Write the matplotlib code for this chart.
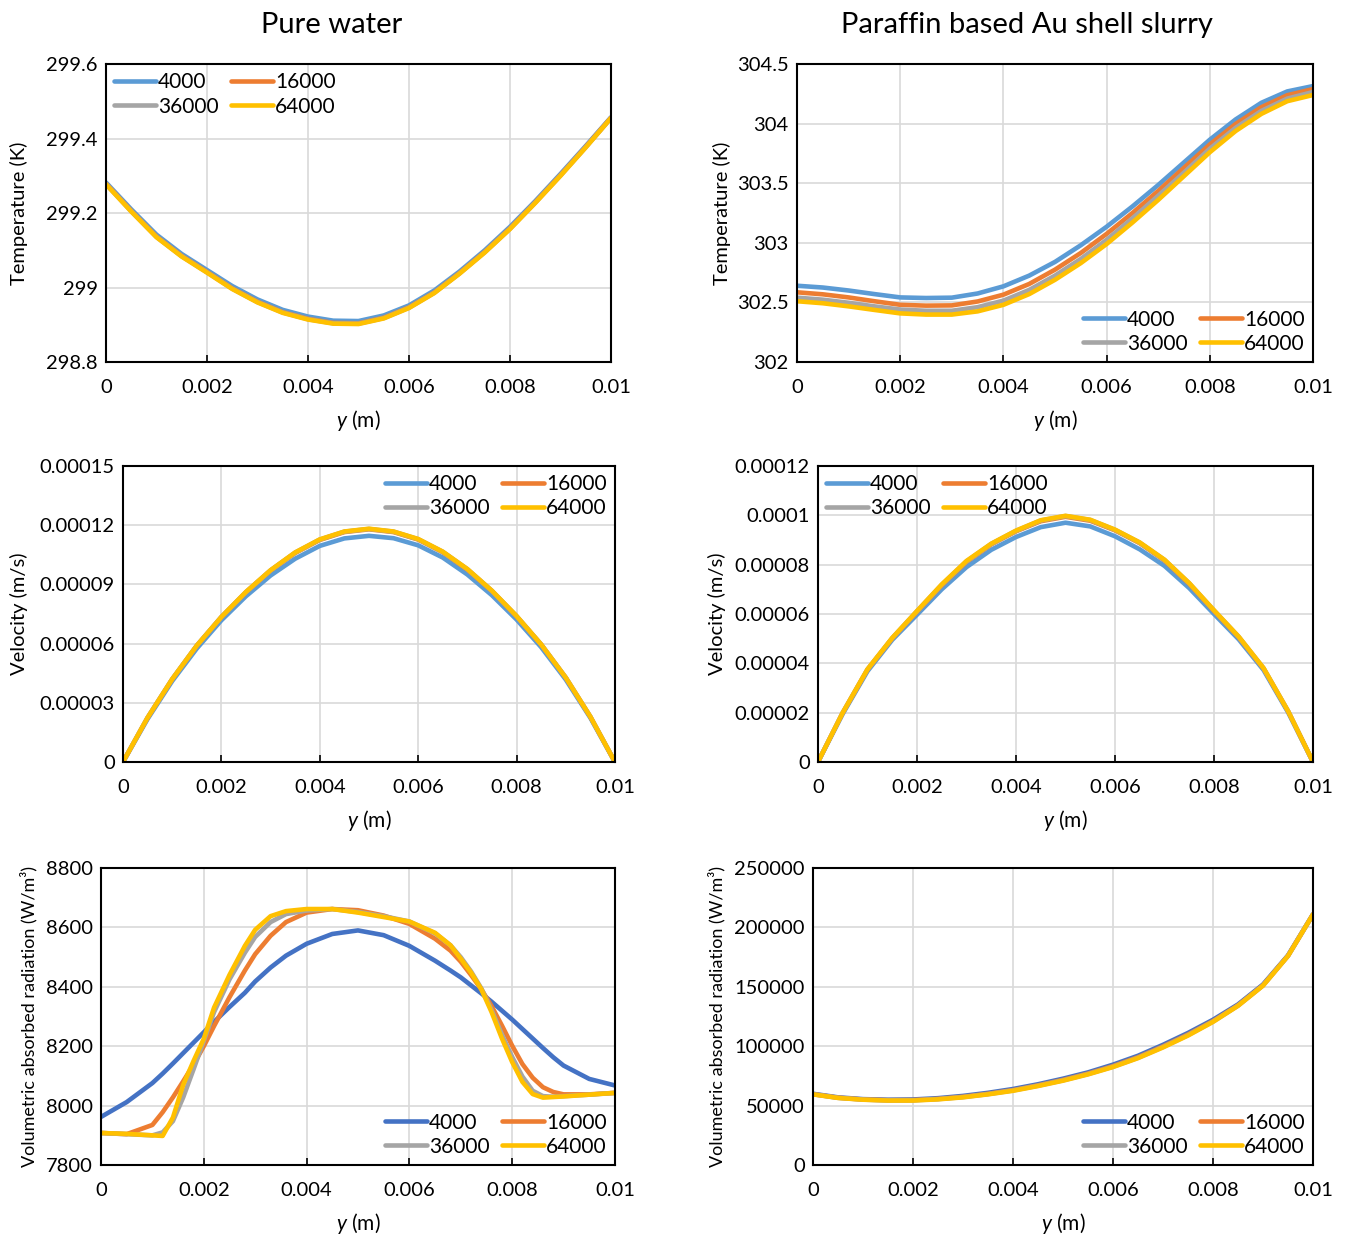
import numpy as np
import matplotlib
matplotlib.use('Agg')
import matplotlib.pyplot as plt
from matplotlib.ticker import FuncFormatter

plt.rcParams['font.family'] = ['Lato', 'DejaVu Sans']
plt.rcParams['mathtext.fontset'] = 'custom'
plt.rcParams['mathtext.it'] = 'Lato:italic'
plt.rcParams['mathtext.rm'] = 'Lato'

# 시리즈 이름
labels = ['4000', '16000', '36000', '64000']
colors_top = ['#5B9BD5', '#ED7D31', '#A5A5A5', '#FFC000']
colors_bot = ['#4472C4', '#ED7D31', '#A5A5A5', '#FFC000']

# 공통 y 좌표 (0.0005 m 간격)
y_std = [0, 0.0005, 0.001, 0.0015, 0.002, 0.0025, 0.003, 0.0035, 0.004, 0.0045, 0.005,
         0.0055, 0.006, 0.0065, 0.007, 0.0075, 0.008, 0.0085, 0.009, 0.0095, 0.01]

# ---- Pure water: temperature ----
pw_T_4000 = [299.282, 299.210, 299.142, 299.090, 299.047, 299.004, 298.968, 298.940, 298.922, 298.911, 298.910,
             298.925, 298.952, 298.992, 299.043, 299.100, 299.163, 299.232, 299.305, 299.380, 299.457]
pw_T_16000 = [299.279, 299.206, 299.137, 299.085, 299.042, 298.998, 298.962, 298.934, 298.916, 298.905, 298.904,
              298.919, 298.947, 298.987, 299.039, 299.096, 299.159, 299.229, 299.302, 299.378, 299.456]
pw_T_36000 = [299.278, 299.205, 299.136, 299.084, 299.041, 298.997, 298.961, 298.933, 298.915, 298.904, 298.903,
              298.918, 298.946, 298.986, 299.038, 299.095, 299.158, 299.228, 299.301, 299.377, 299.455]
pw_T_64000 = [299.277, 299.204, 299.135, 299.083, 299.040, 298.996, 298.960, 298.932, 298.914, 298.903, 298.902,
              298.917, 298.945, 298.985, 299.037, 299.094, 299.157, 299.227, 299.300, 299.376, 299.455]

# ---- Paraffin slurry: temperature ----
pf_T_4000 = [302.640, 302.625, 302.600, 302.570, 302.542, 302.537, 302.540, 302.575, 302.635, 302.725, 302.840,
             302.980, 303.135, 303.305, 303.485, 303.675, 303.865, 304.035, 304.175, 304.270, 304.315]
pf_T_16000 = [302.585, 302.568, 302.542, 302.510, 302.480, 302.473, 302.475, 302.508, 302.565, 302.655, 302.775,
              302.915, 303.075, 303.250, 303.435, 303.630, 303.825, 303.997, 304.138, 304.238, 304.290]
pf_T_36000 = [302.540, 302.523, 302.497, 302.467, 302.440, 302.430, 302.430, 302.460, 302.515, 302.605, 302.725,
              302.865, 303.025, 303.205, 303.395, 303.590, 303.790, 303.965, 304.107, 304.210, 304.265]
pf_T_64000 = [302.510, 302.493, 302.467, 302.437, 302.408, 302.398, 302.398, 302.425, 302.480, 302.570, 302.690,
              302.830, 302.990, 303.170, 303.360, 303.560, 303.760, 303.938, 304.082, 304.188, 304.240]

# ---- Pure water: velocity ----
pw_u_4000 = [0, 0.0000218, 0.0000410, 0.0000575, 0.0000718, 0.0000840, 0.0000945, 0.0001030, 0.0001095,
             0.0001133, 0.0001146, 0.0001134, 0.0001098, 0.0001036, 0.0000950, 0.0000845, 0.0000722,
             0.0000582, 0.0000418, 0.0000224, 0]
pw_u_16000 = [0, 0.0000224, 0.0000419, 0.0000589, 0.0000734, 0.0000860, 0.0000970, 0.0001059, 0.0001125,
              0.0001165, 0.0001179, 0.0001165, 0.0001127, 0.0001063, 0.0000975, 0.0000866, 0.0000738,
              0.0000595, 0.0000427, 0.0000229, 0]
pw_u_36000 = [0, 0.0000225, 0.0000420, 0.0000590, 0.0000735, 0.0000861, 0.0000971, 0.0001061, 0.0001127,
              0.0001167, 0.0001181, 0.0001167, 0.0001129, 0.0001065, 0.0000977, 0.0000867, 0.0000739,
              0.0000596, 0.0000428, 0.0000230, 0]
pw_u_64000 = [0, 0.0000225, 0.0000420, 0.0000590, 0.0000735, 0.0000862, 0.0000972, 0.0001062, 0.0001128,
              0.0001168, 0.0001182, 0.0001168, 0.0001130, 0.0001066, 0.0000978, 0.0000868, 0.0000740,
              0.0000596, 0.0000428, 0.0000230, 0]

# ---- Paraffin slurry: velocity ----
pf_u_4000 = [0, 0.0000195, 0.0000368, 0.0000495, 0.0000597, 0.0000700, 0.0000790, 0.0000860, 0.0000912,
             0.0000952, 0.0000970, 0.0000955, 0.0000915, 0.0000862, 0.0000795, 0.0000705, 0.0000600,
             0.0000497, 0.0000373, 0.0000200, 0]
pf_u_16000 = [0, 0.0000199, 0.0000374, 0.0000501, 0.0000609, 0.0000716, 0.0000811, 0.0000882, 0.0000935,
              0.0000976, 0.0000994, 0.0000978, 0.0000939, 0.0000887, 0.0000817, 0.0000722, 0.0000612,
              0.0000505, 0.0000379, 0.0000204, 0]
pf_u_36000 = [0, 0.0000200, 0.0000375, 0.0000502, 0.0000611, 0.0000718, 0.0000813, 0.0000884, 0.0000937,
              0.0000979, 0.0000997, 0.0000981, 0.0000941, 0.0000889, 0.0000819, 0.0000724, 0.0000614,
              0.0000507, 0.0000380, 0.0000205, 0]
pf_u_64000 = [0, 0.0000200, 0.0000376, 0.0000503, 0.0000612, 0.0000720, 0.0000815, 0.0000885, 0.0000938,
              0.0000980, 0.0000998, 0.0000982, 0.0000942, 0.0000890, 0.0000820, 0.0000725, 0.0000615,
              0.0000508, 0.0000381, 0.0000205, 0]

# ---- Pure water: absorbed radiation ----
y_rad = [0, 0.0005, 0.001, 0.0012, 0.0014, 0.0016, 0.0018, 0.002, 0.0022, 0.0025, 0.0028, 0.003,
         0.0033, 0.0036, 0.004, 0.0045, 0.005, 0.0055, 0.006, 0.0065, 0.0068, 0.007, 0.0072, 0.0074,
         0.0076, 0.0078, 0.008, 0.0082, 0.0084, 0.0086, 0.0088, 0.009, 0.0095, 0.01]
pw_q_4000 = [7962, 8012, 8076, 8108, 8142, 8177, 8212, 8247, 8282, 8332, 8380, 8418,
             8465, 8505, 8545, 8578, 8590, 8574, 8538, 8488, 8455, 8432, 8405, 8378,
             8350, 8320, 8290, 8258, 8226, 8194, 8163, 8135, 8090, 8068]
pw_q_16000 = [7908, 7904, 7935, 7978, 8028, 8082, 8138, 8200, 8268, 8365, 8455, 8510,
              8572, 8618, 8650, 8662, 8658, 8640, 8612, 8562, 8522, 8485, 8440, 8392,
              8335, 8270, 8202, 8140, 8094, 8062, 8046, 8038, 8038, 8043]
pw_q_36000 = [7908, 7904, 7900, 7910, 7948, 8028, 8122, 8218, 8315, 8425, 8515, 8568,
              8618, 8645, 8657, 8662, 8652, 8638, 8620, 8580, 8540, 8500, 8452, 8395,
              8322, 8240, 8164, 8098, 8050, 8032, 8030, 8032, 8037, 8043]
pw_q_64000 = [7908, 7905, 7900, 7898, 7960, 8070, 8150, 8225, 8330, 8440, 8538, 8592,
              8638, 8655, 8662, 8662, 8650, 8635, 8620, 8582, 8540, 8495, 8448, 8392,
              8315, 8227, 8147, 8080, 8039, 8027, 8029, 8031, 8037, 8043]

# ---- Paraffin slurry: absorbed radiation ----
pf_q_4000 = [60000, 57000, 55500, 55000, 55200, 56300, 58200, 60800, 64000, 68000, 72700,
             78000, 84500, 92000, 101200, 111200, 122300, 135200, 152000, 176500, 211000]
pf_q_16000 = [59700, 56700, 55200, 54600, 54700, 55700, 57500, 60000, 63100, 67100, 71700,
              77000, 83300, 90800, 99900, 109900, 121200, 134500, 151400, 176200, 211000]
pf_q_36000 = [59600, 56600, 55100, 54400, 54500, 55500, 57200, 59700, 62800, 66800, 71300,
              76600, 82800, 90300, 99400, 109400, 120800, 134200, 151200, 176100, 211000]
pf_q_64000 = [59500, 56500, 55000, 54300, 54300, 55300, 57000, 59500, 62500, 66500, 71000,
              76300, 82500, 90000, 99000, 109000, 120500, 134000, 151000, 176000, 211000]

titles = ['Pure water', 'Paraffin based Au shell slurry']


def excel_fmt(v, pos=None):
    s = f"{v:.6f}".rstrip('0').rstrip('.')
    return '0' if s in ('-0', '') else s


fig = plt.figure(figsize=(13.5, 12.36), dpi=100)

# [left, bottom, width, height]
rects = [
    [0.0785, 0.7071, 0.3741, 0.2411], [0.5904, 0.7071, 0.3822, 0.2411],
    [0.0911, 0.3835, 0.3644, 0.2395], [0.6059, 0.3835, 0.3667, 0.2395],
    [0.0748, 0.0574, 0.3807, 0.2403], [0.6022, 0.0574, 0.3704, 0.2403],
]

panels = [
    (y_std, [pw_T_4000, pw_T_16000, pw_T_36000, pw_T_64000], (298.8, 299.6), 0.2,
     'Temperature (K)', 'upper left', colors_top, 14.5, 13),
    (y_std, [pf_T_4000, pf_T_16000, pf_T_36000, pf_T_64000], (302, 304.5), 0.5,
     'Temperature (K)', 'lower right', colors_top, 14.5, 4),
    (y_std, [pw_u_4000, pw_u_16000, pw_u_36000, pw_u_64000], (0, 0.00015), 0.00003,
     'Velocity (m/s)', 'upper right', colors_top, 14.5, 8),
    (y_std, [pf_u_4000, pf_u_16000, pf_u_36000, pf_u_64000], (0, 0.00012), 0.00002,
     'Velocity (m/s)', 'upper left', colors_top, 14.5, 6),
    (y_rad, [pw_q_4000, pw_q_16000, pw_q_36000, pw_q_64000], (7800, 8800), 200,
     'Volumetric absorbed radiation (W/m³)', 'lower right', colors_bot, 13, 6),
    (y_std, [pf_q_4000, pf_q_16000, pf_q_36000, pf_q_64000], (0, 250000), 50000,
     'Volumetric absorbed radiation (W/m³)', 'lower right', colors_bot, 13, 6),
]

for i, (xs, series, ylim, ystep, ylab, loc, cols, ylab_fs, ylab_pad) in enumerate(panels):
    ax = fig.add_axes(rects[i])
    handles = []
    for vals, c, lab in zip(series, cols, labels):
        ln, = ax.plot(xs, vals, color=c, lw=3.3, label=lab,
                      solid_capstyle='round', solid_joinstyle='round')
        handles.append(ln)
    ax.set_xlim(0, 0.01)
    ax.set_ylim(*ylim)
    ax.set_xticks(np.linspace(0, 0.01, 6))
    ax.set_yticks(np.arange(ylim[0], ylim[1] + ystep / 2, ystep))
    ax.xaxis.set_major_formatter(FuncFormatter(excel_fmt))
    ax.yaxis.set_major_formatter(FuncFormatter(excel_fmt))
    ax.grid(True, color='#D9D9D9', lw=1.2)
    ax.set_axisbelow(True)
    for sp in ax.spines.values():
        sp.set_linewidth(1.5)
        sp.set_color('black')
    ax.tick_params(axis='x', direction='in', length=5, width=1.2, labelsize=14.5, pad=12)
    ax.tick_params(axis='y', length=0, labelsize=14.5, pad=6)
    ax.set_xlabel('$y$ (m)', fontsize=15, labelpad=9)
    ax.set_ylabel(ylab, fontsize=ylab_fs, labelpad=ylab_pad)
    # 행 방향 순서: 4000 16000 / 36000 64000
    order = [0, 2, 1, 3]
    ax.legend([handles[k] for k in order], [labels[k] for k in order], loc=loc, ncol=2,
              frameon=False, fontsize=15, handlelength=2.0, handletextpad=0.1,
              columnspacing=0.6, labelspacing=0.2, borderaxespad=0.2, borderpad=0.2)

fig.text(0.246, 0.98, titles[0], fontsize=21, ha='center', va='center')
fig.text(0.761, 0.98, titles[1], fontsize=21, ha='center', va='center')

plt.savefig('out.png', dpi=100)
plt.close()
